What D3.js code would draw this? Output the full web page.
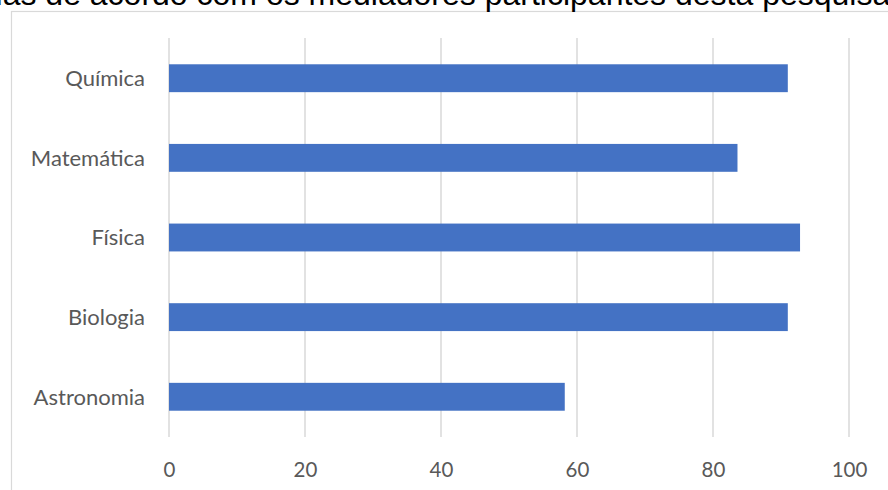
<!DOCTYPE html>
<html>
<head>
<meta charset="utf-8">
<script src="https://cdn.jsdelivr.net/npm/d3@7"></script>
<style>
  html, body { margin: 0; padding: 0; background: #fff; overflow: hidden; }
  svg { display: block; }
</style>
</head>
<body>
<svg id="chart" width="888" height="490"></svg>
<script>
const categories = ["Química", "Matemática", "Física", "Biologia", "Astronomia"];
const values = [91.0, 83.6, 92.8, 91.0, 58.2];
const xTicks = [0, 20, 40, 60, 80, 100];
const titleText = "Áreas abordadas de acordo com os mediadores participantes desta pesquisa";

const svg = d3.select("#chart");
const plot = { left: 169, right: 849, top: 38, bottom: 437 };

// chart border (extends beyond visible area)
svg.append("rect")
  .attr("x", 11.5).attr("y", 11.5)
  .attr("width", 900).attr("height", 500)
  .attr("fill", "#fff").attr("stroke", "#d9d9d9").attr("stroke-width", 1.2);

const x = d3.scaleLinear().domain([0, 100]).range([plot.left, plot.right]);
const y = d3.scaleBand().domain(categories).range([plot.top, plot.bottom])
  .paddingInner(0.65).paddingOuter(0.33);

// gridlines
svg.append("g").selectAll("line").data(xTicks).join("line")
  .attr("x1", d => x(d)).attr("x2", d => x(d))
  .attr("y1", plot.top).attr("y2", plot.bottom)
  .attr("stroke", "#d9d9d9").attr("stroke-width", 1.5);

// bars
svg.append("g").selectAll("rect").data(categories).join("rect")
  .attr("x", x(0))
  .attr("y", d => y(d))
  .attr("width", (d, i) => x(values[i]) - x(0))
  .attr("height", y.bandwidth())
  .attr("fill", "#4472c4");

// x axis labels
const xAxis = d3.axisBottom(x).tickValues(xTicks).tickSize(0).tickPadding(0);
const gx = svg.append("g").attr("transform", `translate(0,${plot.bottom})`).call(xAxis);
gx.select(".domain").remove();
gx.selectAll("text")
  .attr("dy", null).attr("y", 40)
  .attr("font-family", "Lato, 'Open Sans', sans-serif")
  .attr("font-size", 20.5).attr("fill", "#595959");

// y axis labels
const yAxis = d3.axisLeft(y).tickSize(0).tickPadding(0);
const gy = svg.append("g").attr("transform", `translate(145,0)`).call(yAxis);
gy.select(".domain").remove();
gy.selectAll("text")
  .attr("x", 0).attr("dy", "0.36em")
  .attr("font-family", "Lato, 'Open Sans', sans-serif")
  .attr("font-size", 22).attr("fill", "#595959");

// clipped title (cut off at top edge, as in the reference)
const t = svg.append("text")
  .attr("y", 5)
  .attr("font-family", "'Liberation Sans', Arial, sans-serif")
  .attr("font-size", 32).attr("fill", "#000")
  .text(titleText);
const idx = titleText.indexOf("desta");
const pre = t.node().getSubStringLength(0, idx);
t.attr("x", 675 - pre);
</script>
</body>
</html>
